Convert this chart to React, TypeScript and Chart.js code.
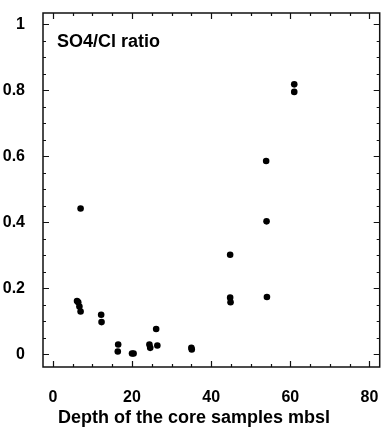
import React, { useEffect, useRef } from "react";
import { Chart, registerables } from "chart.js";

Chart.register(...registerables);

// Data
const depth = [6.1, 6.4, 6.7, 7.0, 7.0, 12.2, 12.3, 16.5, 16.4, 20.0, 20.4, 24.4, 24.6, 26.1, 26.4, 35.0, 35.1, 44.8, 44.9, 44.8, 53.9, 54.0, 54.1, 61.0, 61.0];
const ratio = [0.162, 0.158, 0.145, 0.130, 0.442, 0.120, 0.098, 0.030, 0.009, 0.003, 0.003, 0.030, 0.020, 0.077, 0.027, 0.020, 0.015, 0.172, 0.158, 0.302, 0.586, 0.403, 0.174, 0.818, 0.795];

const xTicks = [0, 20, 40, 60, 80];
const xTickLabels = ["0", "20", "40", "60", "80"];
const yTicks = [0, 0.2, 0.4, 0.6, 0.8, 1];
const yTickLabels = ["0", "0.2", "0.4", "0.6", "0.8", "1"];

const panelLabel = "SO4/Cl ratio";
const xTitle = "Depth of the core samples mbsl";

const FONT = '"Liberation Sans", Arial, Helvetica, sans-serif';

const framePlugin = {
  id: "frame",
  afterDraw(chart: any) {
    const { ctx, chartArea: a, scales } = chart;
    const xs = scales.x;
    const ys = scales.y;
    ctx.save();
    ctx.strokeStyle = "#111";
    ctx.lineWidth = 1.5;
    ctx.strokeRect(a.left, a.top, a.right - a.left, a.bottom - a.top);
    ctx.lineWidth = 1.2;
    ctx.beginPath();
    for (let v = 0; v <= 80; v += 5) {
      const px = Math.round(xs.getPixelForValue(v)) + 0.5;
      const len = v % 20 === 0 ? 6 : 3;
      ctx.moveTo(px, a.bottom);
      ctx.lineTo(px, a.bottom - len);
      ctx.moveTo(px, a.top);
      ctx.lineTo(px, a.top + len);
    }
    for (let i = 0; i <= 20; i++) {
      const v = i * 0.05;
      const py = Math.round(ys.getPixelForValue(v)) + 0.5;
      const len = i % 4 === 0 ? 6 : 3;
      ctx.moveTo(a.left, py);
      ctx.lineTo(a.left + len, py);
      ctx.moveTo(a.right, py);
      ctx.lineTo(a.right - len, py);
    }
    ctx.stroke();

    ctx.fillStyle = "#000";
    ctx.font = `bold 18px ${FONT}`;
    ctx.textBaseline = "middle";
    ctx.textAlign = "left";
    ctx.fillText(panelLabel, a.left + 14, a.top + 29);
    ctx.fillText(xTitle, 58, 418);
    ctx.restore();
  },
};

export default function App() {
  const ref = useRef<HTMLCanvasElement | null>(null);

  useEffect(() => {
    if (!ref.current) return;
    const chart = new Chart(ref.current, {
      type: "scatter",
      data: {
        datasets: [
          {
            data: depth.map((d, i) => ({ x: d, y: ratio[i] })),
            pointRadius: 3.3,
            pointHoverRadius: 3.3,
            backgroundColor: "#000",
            borderColor: "#000",
            borderWidth: 0,
          },
        ],
      },
      options: {
        animation: false,
        responsive: true,
        maintainAspectRatio: false,
        layout: { padding: { top: 13, right: 1, left: 0, bottom: 0 } },
        plugins: { legend: { display: false }, tooltip: { enabled: false } },
        scales: {
          x: {
            type: "linear",
            min: -2.5,
            max: 82.6,
            grid: { display: false },
            border: { display: false },
            ticks: {
              color: "#000",
              font: { family: FONT, size: 16, weight: "bold" },
              padding: 13,
              maxRotation: 0,
              callback: (v: any) => {
                const i = xTicks.indexOf(Number(v));
                return i >= 0 ? xTickLabels[i] : "";
              },
            },
            afterBuildTicks: (s: any) => {
              s.ticks = xTicks.map((v) => ({ value: v }));
            },
            afterFit: (s: any) => {
              s.height = 64;
              s.paddingLeft = 0;
              s.paddingRight = 0;
            },
          },
          y: {
            type: "linear",
            min: -0.038,
            max: 1.034,
            grid: { display: false },
            border: { display: false },
            ticks: {
              color: "#000",
              font: { family: FONT, size: 16, weight: "bold" },
              padding: 10,
              callback: (v: any) => {
                const i = yTicks.findIndex((t) => Math.abs(t - Number(v)) < 1e-9);
                return i >= 0 ? yTickLabels[i] : "";
              },
            },
            afterBuildTicks: (s: any) => {
              s.ticks = yTicks.map((v) => ({ value: v }));
            },
            afterFit: (s: any) => {
              s.width = 43;
              s.paddingTop = 0;
              s.paddingBottom = 0;
            },
          },
        },
      },
      plugins: [framePlugin],
    } as any);
    return () => chart.destroy();
  }, []);

  return (
    <div style={{ position: "fixed", left: 0, top: 0, width: 383, height: 431, background: "#fff" }}>
      <canvas ref={ref} />
    </div>
  );
}
